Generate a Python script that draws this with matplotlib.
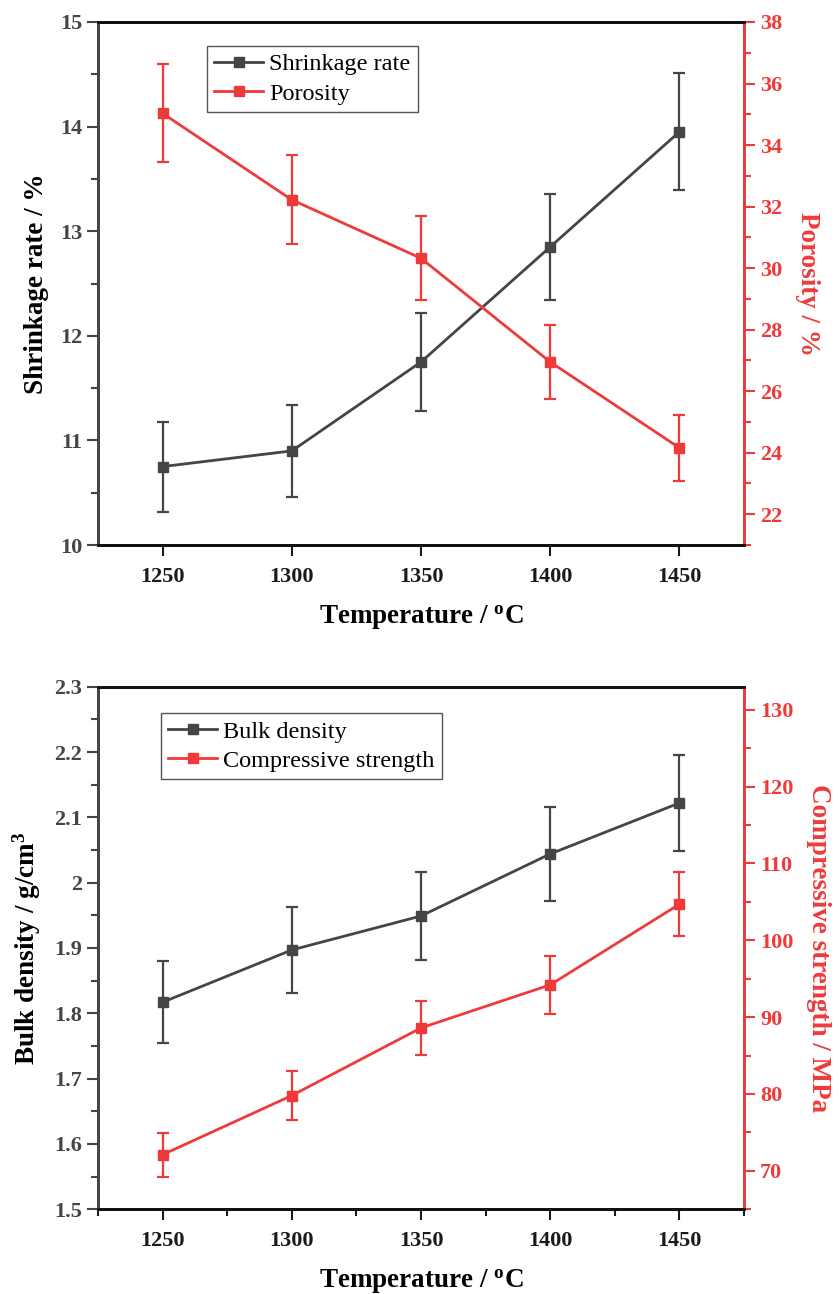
import matplotlib
matplotlib.use('Agg')
import matplotlib.pyplot as plt
from matplotlib.ticker import MultipleLocator

plt.rcParams['font.family'] = ['Liberation Serif', 'DejaVu Serif']
plt.rcParams['mathtext.fontset'] = 'custom'
plt.rcParams['mathtext.rm'] = 'Liberation Serif:bold'
plt.rcParams['mathtext.it'] = 'Liberation Serif:bold'
plt.rcParams['mathtext.bf'] = 'Liberation Serif:bold'

# 数据
temperature = [1250, 1300, 1350, 1400, 1450]
shrinkage = [10.75, 10.90, 11.75, 12.85, 13.95]
shrinkage_err = [0.43, 0.44, 0.47, 0.51, 0.56]
porosity = [35.03, 32.22, 30.32, 26.95, 24.16]
porosity_err = [1.59, 1.45, 1.37, 1.21, 1.08]
bulk_density = [1.817, 1.897, 1.949, 2.044, 2.122]
bulk_density_err = [0.063, 0.066, 0.068, 0.072, 0.074]
strength = [72.1, 79.8, 88.6, 94.2, 104.7]
strength_err = [2.85, 3.15, 3.5, 3.75, 4.15]

GRAY = '#454545'
RED = '#ef3a3a'
TICK_FS = 16
LABEL_FS = 19.5
LEGEND_FS = 17.5


def series(ax, y, err, color, label):
    ax.errorbar(temperature, y, yerr=err, fmt='none', ecolor=color,
                elinewidth=1.6, capsize=4.5, capthick=1.6)
    line, = ax.plot(temperature, y, '-s', color=color, lw=2,
                    markersize=7, label=label)
    return line


def style(ax, ax2, left_color, minor_x):
    ax.set_xlim(1225, 1475)
    ax.xaxis.set_major_locator(MultipleLocator(50))
    if minor_x:
        ax.xaxis.set_minor_locator(MultipleLocator(25))
    ax.tick_params(axis='x', which='both', direction='out', top=False,
                   width=1.5, colors='#1a1a1a', labelsize=TICK_FS, pad=8)
    ax.tick_params(axis='x', which='major', length=8)
    ax.tick_params(axis='x', which='minor', length=5)
    ax.tick_params(axis='y', which='both', direction='out', width=1.5,
                   colors=left_color, labelsize=TICK_FS, right=False)
    ax.tick_params(axis='y', which='major', length=8)
    ax.tick_params(axis='y', which='minor', length=5)
    ax2.tick_params(axis='y', which='both', direction='out', width=1.5,
                    colors=RED, labelsize=TICK_FS)
    ax2.tick_params(axis='y', which='major', length=8)
    ax2.tick_params(axis='y', which='minor', length=5)
    for lab in ax.get_xticklabels() + ax.get_yticklabels() + ax2.get_yticklabels():
        lab.set_fontweight('bold')
    for a in (ax, ax2):
        for s in a.spines.values():
            s.set_linewidth(2)
        a.spines['top'].set_color('#111111')
        a.spines['bottom'].set_color('#111111')
        a.spines['left'].set_color(left_color)
        a.spines['right'].set_color(RED)


def add_legend(ax, handles, anchor):
    leg = ax.legend(handles=handles, loc='upper left', bbox_to_anchor=anchor,
                    fontsize=LEGEND_FS, frameon=True, fancybox=False,
                    edgecolor='#555555', framealpha=1, handlelength=2.0,
                    borderaxespad=0, borderpad=0.3, labelspacing=0.3,
                    handletextpad=0.25)
    leg.get_frame().set_linewidth(1)


fig = plt.figure(figsize=(8.4, 12.94), dpi=100)

# 上图：收缩率与气孔率
ax1 = fig.add_axes([0.1167, 0.5788, 0.769, 0.4042])
ax1b = ax1.twinx()
l1 = series(ax1, shrinkage, shrinkage_err, GRAY, 'Shrinkage rate')
l2 = series(ax1b, porosity, porosity_err, RED, 'Porosity')
ax1.set_ylim(10, 15)
ax1.yaxis.set_major_locator(MultipleLocator(1))
ax1.yaxis.set_minor_locator(MultipleLocator(0.5))
ax1b.set_ylim(21, 38)
ax1b.yaxis.set_major_locator(MultipleLocator(2))
ax1b.yaxis.set_minor_locator(MultipleLocator(1))
style(ax1, ax1b, GRAY, False)
ax1.set_xlabel(r'Temperature / $^{\mathrm{o}}$C', fontsize=LABEL_FS,
               fontweight='bold', labelpad=12)
ax1.set_ylabel('Shrinkage rate / %', fontsize=LABEL_FS, fontweight='bold',
               labelpad=8)
ax1b.set_ylabel('Porosity / %', fontsize=LABEL_FS, fontweight='bold',
                color=RED, rotation=270, labelpad=27)
add_legend(ax1b, [l1, l2], (0.169, 0.954))

# 下图：体积密度与抗压强度
ax2 = fig.add_axes([0.1167, 0.0655, 0.769, 0.4038])
ax2b = ax2.twinx()
l3 = series(ax2, bulk_density, bulk_density_err, GRAY, 'Bulk density')
l4 = series(ax2b, strength, strength_err, RED, 'Compressive strength')
ax2.set_ylim(1.5, 2.3)
ax2.yaxis.set_major_locator(MultipleLocator(0.1))
ax2.yaxis.set_minor_locator(MultipleLocator(0.05))
ax2.yaxis.set_major_formatter(plt.FuncFormatter(lambda v, p: f'{v:g}'))
ax2b.set_ylim(65, 133)
ax2b.yaxis.set_major_locator(MultipleLocator(10))
ax2b.yaxis.set_minor_locator(MultipleLocator(5))
style(ax2, ax2b, GRAY, True)
ax2.set_xlabel(r'Temperature / $^{\mathrm{o}}$C', fontsize=LABEL_FS,
               fontweight='bold', labelpad=12)
ax2.set_ylabel(r'Bulk density / g/cm$^{3}$', fontsize=LABEL_FS,
               fontweight='bold', labelpad=8)
ax2b.set_ylabel('Compressive strength / MPa', fontsize=LABEL_FS,
                fontweight='bold', color=RED, rotation=270, labelpad=27)
add_legend(ax2b, [l3, l4], (0.0975, 0.949))

fig.savefig('out.png', dpi=100)
